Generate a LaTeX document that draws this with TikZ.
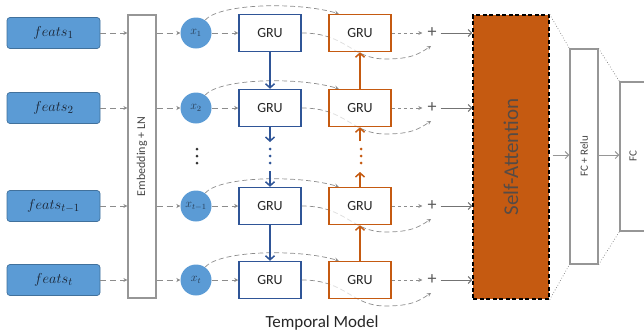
\documentclass[tikz,border=0pt]{standalone}
\usepackage{fontspec}
\setmainfont{Carlito}
\usetikzlibrary{arrows.meta,calc}
\definecolor{featblue}{RGB}{91,155,213}
\definecolor{featedge}{RGB}{65,113,156}
\definecolor{grublue}{RGB}{47,85,151}
\definecolor{gruorange}{RGB}{197,90,17}
\definecolor{linegray}{RGB}{140,140,140}
\definecolor{boxgray}{RGB}{150,150,150}
\definecolor{txtdark}{RGB}{25,35,50}
\definecolor{txtgray}{RGB}{70,70,70}
\definecolor{satxt}{RGB}{85,75,70}
\begin{document}
\begin{tikzpicture}[x=1pt,y=-1pt,
  feat/.style={draw=featedge, fill=featblue, rounded corners=3pt, minimum width=93pt, minimum height=31pt, inner sep=0pt, line width=0.7pt, text=txtdark, font=\fontsize{15}{15}\selectfont},
  xin/.style={circle, fill=featblue, minimum size=31pt, inner sep=0pt, text=txtdark!80!featblue, font=\fontsize{12}{12}\selectfont},
  grub/.style={draw=grublue, line width=1.5pt, minimum width=62pt, minimum height=37pt, fill=white, inner sep=0pt, text=black!85, font=\fontsize{14}{14}\selectfont},
  gruo/.style={draw=gruorange, line width=1.5pt, minimum width=62pt, minimum height=37pt, fill=white, fill opacity=0.7, text opacity=1, inner sep=0pt, text=black!85, font=\fontsize{14}{14}\selectfont},
  graybox/.style={draw=boxgray, line width=1.2pt, fill=white, inner sep=0pt},
  plusnode/.style={inner sep=0pt, text=black!65, font=\fontsize{18}{18}\selectfont},
  dsh/.style={draw=linegray, dash pattern=on 6pt off 4pt, line width=0.9pt, -{Stealth[length=4pt,width=4pt]}},
  dshs/.style={draw=linegray, dash pattern=on 3.5pt off 2.5pt, line width=0.9pt, -{Stealth[length=4pt,width=4pt]}},
  arc/.style={draw=linegray, dash pattern=on 5pt off 3pt, line width=0.7pt, -{Stealth[length=4pt,width=4pt]}},
  solidg/.style={draw=black!55, line width=1pt, -{Straight Barb[length=3.5pt,width=7pt]}},
  barb/.style={line width=1.5pt, -{Straight Barb[length=4pt,width=9pt]}},
  dotc/.style={circle, inner sep=0pt, minimum size=3pt},
  dotl/.style={draw=black!50, line width=0.7pt, dotted}
]
\useasboundingbox (0,0) rectangle (644,335);

% embedding and right-hand blocks
\node[graybox, minimum width=28pt, minimum height=283pt] (emb) at (142,156.5) {};
\node[rotate=90, text=txtgray, font=\fontsize{12}{12}\selectfont] (embt) at (emb.center) {Embedding + LN};

\node[draw=black, dash pattern=on 4pt off 2.5pt, line width=1.3pt, fill=gruorange, minimum width=76pt, minimum height=284pt, inner sep=0pt] (sa) at (511,157) {};
\node[rotate=90, text=satxt, font=\fontsize{21}{21}\selectfont] (sat) at (sa.center) {Self-Attention};

\node[graybox, minimum width=28pt, minimum height=215pt] (fcr) at (584,156.5) {};
\node[rotate=90, text=txtgray, font=\fontsize{11}{11}\selectfont] (fcrt) at (fcr.center) {FC + Relu};

\node[graybox, minimum width=34pt, minimum height=149pt] (fc) at (637,156.5) {};
\node[rotate=90, text=txtgray, font=\fontsize{11}{11}\selectfont] (fct) at (633,156.5) {FC};

\draw[dotl] (sa.north east) -- (fcr.north west);
\draw[dotl] (sa.south east) -- (fcr.south west);
\draw[dotl] (fcr.north east) -- (fc.north west);
\draw[dotl] (fcr.south east) -- (fc.south west);
\draw[solidg, draw=boxgray] ([xshift=3pt]sa.east |- 0,155) coordinate (sao) -- (sao -| fcr.west);
\draw[solidg, draw=boxgray] (fcr.east |- 0,155) coordinate (fro) -- (fro -| fc.west);

% rows
\foreach \i/\y/\lab/\xl in {1/33/1/1, 2/108/2/2, 3/206/{t-1}/{t-1}, 4/280/t/t}{
  \node[feat] (f\i) at (53.5,\y) {$feats_{\lab}$};
  \node[xin] (x\i) at (196,\y) {$x_{\xl}$};
  \node[plusnode] (p\i) at (432,\y) {+};
  % bottom curve from blue GRU to plus (under orange box)
  \node[grub] (b\i) at (270,\y) {GRU};
  \draw[arc] (b\i.east) .. controls +(45,0) and +(-35,0) .. ($(b\i.east)+(84,26)$) coordinate (m\i)
             .. controls +(25,0) and +(-12,8) .. ($(p\i.center)+(-1,13)$);
  \draw[arc] (x\i.55) .. controls +(15,-17) and +(-40,-12) .. ($(b\i.north east)+(37,0)$);
  \node[gruo] (o\i) at (360,\y) {GRU};
  \draw[dsh] (f\i.east) -- (f\i.east -| emb.west);
  \draw[dsh] (f\i.east -| emb.east) -- (x\i.west);
  \draw[dsh] (x\i.east) -- (b\i.west);
  \draw[dshs, shorten >=5pt] (o\i.east) -- (p\i.west);
  \draw[solidg, shorten <=4pt] (p\i.east) -- (p\i -| sa.west);
}

% vertical recurrent links
\coordinate (bd1) at (270,142);
\coordinate (bd2) at (270,171);
\coordinate (od1) at (360,141);
\coordinate (od2) at (360,172);
\draw[barb, grublue] (b1.south) -- (b2.north);
\draw[barb, grublue] (b2.south) -- (bd1);
\draw[barb, grublue] (bd2) -- (b3.north);
\draw[barb, grublue] (b3.south) -- (b4.north);
\draw[barb, gruorange] (o2.north) -- (o1.south);
\draw[barb, gruorange] (od1) -- (o2.south);
\draw[barb, gruorange] (o3.north) -- (od2);
\draw[barb, gruorange] (o4.north) -- (o3.south);
\foreach \yy [count=\k] in {149,156,163}{
  \node[dotc, fill=grublue] (bdot\k) at (270,\yy) {};
  \node[dotc, fill=gruorange] (odot\k) at (361,\yy) {};
  \node[dotc, fill=black!80] (xdot\k) at (197,\yy) {};
}

\node[text=black!85, font=\fontsize{17}{17}\selectfont] (title) at (322,323) {Temporal Model};
\end{tikzpicture}
\end{document}
